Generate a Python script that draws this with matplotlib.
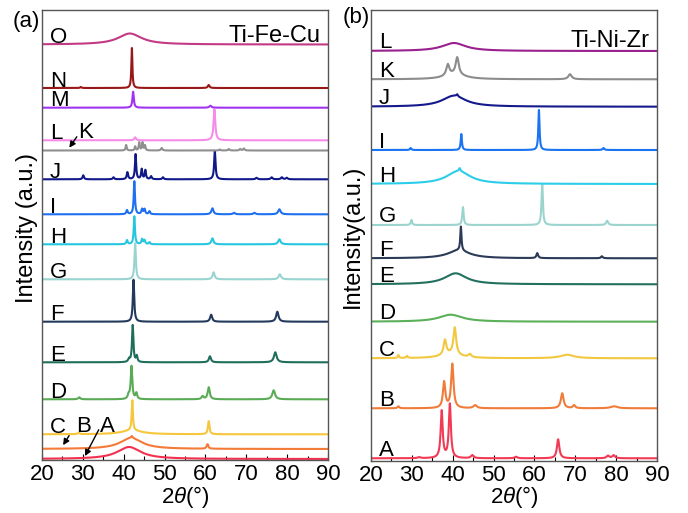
import matplotlib
matplotlib.use('Agg')
import matplotlib.pyplot as plt
import numpy as np

plt.rcParams['font.family'] = ['Liberation Sans', 'DejaVu Sans']
plt.rcParams['mathtext.fontset'] = 'custom'
plt.rcParams['mathtext.it'] = 'Liberation Sans:italic'

# ---- panel (a) Ti-Fe-Cu : peaks as (2theta, height, fwhm) ----
labels_a = ['A', 'B', 'C', 'D', 'E', 'F', 'G', 'H', 'I', 'J', 'K', 'L', 'M', 'N', 'O']
offsets_a = [1, 11, 25.7, 60.7, 97.7, 138.3, 180.7, 215.7, 245.7, 280.7, 309.5, 319.7, 352.3, 372, 415.5]

a_A = [(41.3, 12, 7.0)]
a_B = [(41.8, 11, 6.5), (42.0, 2, 0.4), (60.5, 4.5, 0.5)]
a_C = [(42.0, 4, 6.0), (42.1, 30, 0.35), (60.8, 13, 0.45), (29.0, 1.5, 0.5)]
a_D = [(41.9, 33, 0.45), (41.2, 4, 0.5), (43.1, 6, 0.45), (29.1, 2, 0.6),
       (59.3, 3, 0.6), (60.8, 12, 0.6), (76.7, 9, 0.8)]
a_E = [(42.2, 37, 0.4), (41.3, 3, 0.5), (43.2, 6, 0.4), (61.1, 6, 0.6), (77.1, 10, 0.8)]
a_F = [(42.4, 42, 0.4), (61.4, 7, 0.6), (77.6, 10, 0.7)]
a_G = [(42.8, 36, 0.4), (62.0, 7, 0.6), (78.2, 5, 0.7)]
a_H = [(42.6, 28, 0.35), (40.8, 4, 0.4), (44.5, 5, 0.4), (45.1, 4, 0.4),
       (46.3, 2, 0.4), (61.7, 6, 0.6), (78.1, 5, 0.7)]
a_I = [(42.6, 33, 0.35), (40.8, 4, 0.4), (44.5, 5, 0.4), (45.1, 5, 0.4), (46.3, 3, 0.4),
       (61.7, 6, 0.6), (67.0, 1.5, 0.6), (72.0, 1.5, 0.6), (78.1, 5, 0.7)]
a_J = [(30.1, 4, 0.4), (37.5, 2, 0.4), (40.9, 7, 0.4), (42.9, 25, 0.35), (44.4, 10, 0.35),
       (45.3, 9, 0.35), (46.7, 3, 0.4), (49.6, 2, 0.4), (62.3, 28, 0.4), (72.5, 1.5, 0.5),
       (76.2, 2, 0.5), (78.7, 2, 0.5), (79.9, 1.5, 0.5)]
a_K = [(40.6, 5.5, 0.3), (42.8, 4, 0.3), (43.8, 8, 0.3), (44.6, 8, 0.3), (45.2, 5, 0.3),
       (49.3, 2.5, 0.4), (63.5, 1, 0.4), (65.7, 1.5, 0.4), (68.5, 1.5, 0.4), (69.4, 2, 0.4)]
a_L = [(42.8, 3, 0.5), (62.2, 31, 0.5)]
a_M = [(42.3, 16, 0.4), (61.2, 2, 0.6)]
a_N = [(29.5, 1, 0.4), (42.0, 40, 0.3), (60.8, 3, 0.5)]
a_O = [(41.5, 11, 7.0)]
peaks_a = [a_A, a_B, a_C, a_D, a_E, a_F, a_G, a_H, a_I, a_J, a_K, a_L, a_M, a_N, a_O]

colors_a = ['#f2304f', '#f47a38', '#f6c63c', '#5aab55', '#1f6e5c', '#243a5c', '#9ad4d0',
            '#26c6e0', '#1f70f0', '#10198a', '#8f8f8f', '#f68cea', '#a034f0', '#981818', '#c23a84']

# ---- panel (b) Ti-Ni-Zr ----
labels_b = ['A', 'B', 'C', 'D', 'E', 'F', 'G', 'H', 'I', 'J', 'K', 'L']
offsets_b = [2.2, 52.2, 102.2, 138.8, 176.2, 202.2, 235.5, 276.5, 310.5, 353.8, 381.2, 409.5]

b_A = [(37.3, 47, 0.6), (39.3, 54, 0.6), (44.8, 3, 0.8), (31.8, 1, 0.8), (55.5, 1.5, 0.8),
       (65.8, 19, 0.7), (78.0, 2.5, 0.8), (79.4, 3, 0.8)]
b_B = [(37.9, 26, 0.7), (39.9, 44, 0.7), (45.5, 3, 1.0), (26.7, 2, 0.5),
       (66.8, 15, 0.8), (69.7, 3, 0.7), (79.5, 2, 2.0)]
b_C = [(39.5, 4, 6.0), (38.1, 15, 0.8), (40.5, 27, 0.8), (26.7, 3, 0.4), (28.8, 2, 0.5),
       (44.2, 3, 0.8), (68.0, 3.5, 4.0)]
b_D = [(39.5, 7, 7.0)]
b_E = [(40.7, 11, 6.5)]
b_F = [(41.5, 8, 6.5), (42.0, 24, 0.35), (60.7, 5, 0.5), (76.5, 2, 0.5)]
b_G = [(29.9, 5, 0.4), (42.5, 18, 0.4), (61.9, 41, 0.4), (77.8, 4.3, 0.6)]
b_H = [(41.4, 13, 7.0), (41.7, 3, 0.4)]
b_I = [(29.7, 2, 0.4), (42.1, 16, 0.35), (61.1, 40, 0.35), (76.9, 2, 0.5)]
b_J = [(40.3, 11, 7.0), (41.1, 2, 0.4)]
b_K = [(40.5, 5, 6.0), (38.8, 11, 0.9), (41.1, 17, 0.9), (68.7, 5, 1.0)]
b_L = [(40.3, 8, 7.0)]
peaks_b = [b_A, b_B, b_C, b_D, b_E, b_F, b_G, b_H, b_I, b_J, b_K, b_L]

colors_b = ['#f23a55', '#f07c3a', '#f2c840', '#5cb05a', '#23705e', '#2b3b57', '#9bd4cf',
            '#2ccde8', '#1a73f0', '#141a8c', '#8c8c8c', '#9a1f8f']

two_theta = np.arange(20, 90.01, 0.02)


def pattern(peaks):
    y = np.zeros_like(two_theta)
    for pos, h, w in peaks:
        g = (w / 2) ** 2
        y += h * g / ((two_theta - pos) ** 2 + g)
    return y


fig = plt.figure(figsize=(6.88, 5.13), dpi=100)
ax_a = fig.add_axes([42 / 688, 53 / 513, 286 / 688, 450.5 / 513])
ax_b = fig.add_axes([371 / 688, 52.5 / 513, 286 / 688, 450.5 / 513])


def style(ax):
    ax.set_xlim(20, 90)
    ax.set_ylim(0, 450.5)
    ax.set_xticks(range(20, 91, 10))
    ax.set_xticks(range(25, 90, 10), minor=True)
    ax.set_yticks([])
    ax.tick_params(axis='x', which='major', direction='in', length=4, width=0.8,
                   labelsize=16, pad=3)
    ax.tick_params(axis='x', which='minor', direction='in', length=3, width=0.8)
    for s in ax.spines.values():
        s.set_color('#555555')
        s.set_linewidth(1.0)
    ax.set_xlabel(r'2$\it{\theta}$(°)', fontsize=16, labelpad=-1)


for lab, off, pk, col in zip(labels_a, offsets_a, peaks_a, colors_a):
    ax_a.plot(two_theta, off + pattern(pk), color=col, lw=1.5)
    if lab in ('A', 'B', 'K'):
        continue
    ax_a.text(22, off + 1.5, lab, fontsize=16, ha='left', va='baseline')

ax_a.text(28.8, offsets_a[11] + 2, 'K', fontsize=16, ha='left', va='baseline')
ax_a.text(28.3, offsets_a[2] + 2, 'B', fontsize=16, ha='left', va='baseline')
ax_a.text(34.2, offsets_a[2] + 2, 'A', fontsize=16, ha='left', va='baseline')
arrow = dict(arrowstyle='-|>', color='black', lw=1.0, mutation_scale=9)
ax_a.annotate('', xy=(26.3, offsets_a[10] + 0.5), xytext=(28.9, offsets_a[10] + 16), arrowprops=arrow)
ax_a.annotate('', xy=(24.8, offsets_a[1] + 1.5), xytext=(27.0, offsets_a[2] + 1), arrowprops=arrow)
ax_a.annotate('', xy=(30.2, offsets_a[0] + 0.5), xytext=(34.2, offsets_a[2] + 7), arrowprops=arrow)

for lab, off, pk, col in zip(labels_b, offsets_b, peaks_b, colors_b):
    ax_b.plot(two_theta, off + pattern(pk), color=col, lw=1.5)
    ax_b.text(22, off + 2.5, lab, fontsize=16, ha='left', va='baseline')

style(ax_a)
style(ax_b)

ax_a.text(0.975, 0.965, 'Ti-Fe-Cu', transform=ax_a.transAxes, fontsize=17, ha='right', va='top')
ax_b.text(0.975, 0.955, 'Ti-Ni-Zr', transform=ax_b.transAxes, fontsize=17, ha='right', va='top')

fig.text(13 / 688, 1 - 21 / 513, '(a)', fontsize=16, ha='left', va='center')
fig.text(343 / 688, 1 - 18 / 513, '(b)', fontsize=16, ha='left', va='center')
fig.text(27 / 688, 1 - 228 / 513, 'Intensity (a.u.)', fontsize=17, rotation=90,
         ha='center', va='center')
fig.text(353 / 688, 1 - 236 / 513, 'Intensity(a.u.)', fontsize=17, rotation=90,
         ha='center', va='center')

fig.savefig('out.png', dpi=100)
